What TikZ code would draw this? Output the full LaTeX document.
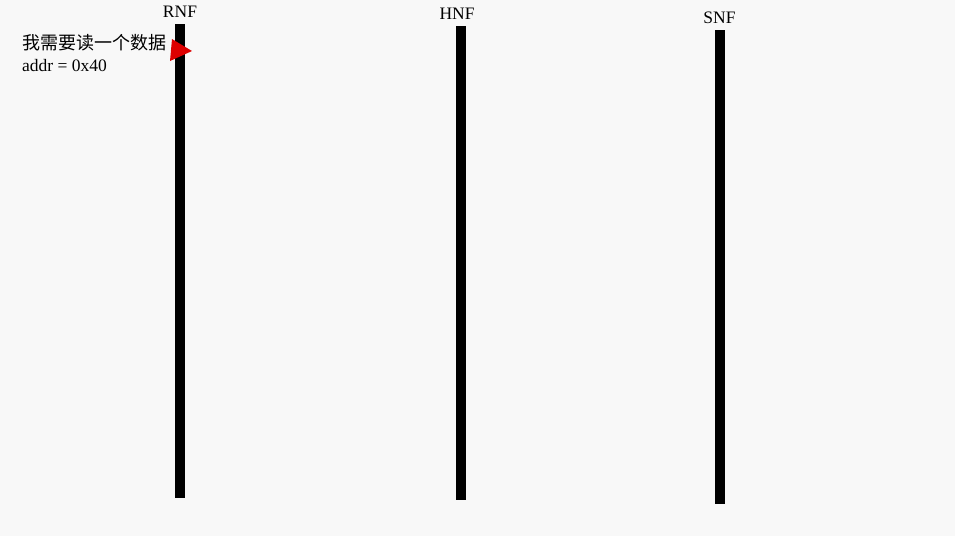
\documentclass[tikz,border=0pt]{standalone}
\usepackage{fontspec}
\setmainfont{Liberation Serif}
\newfontfamily\cjkfont{Noto Sans CJK SC}
\usetikzlibrary{positioning}
\definecolor{PageGrey}{HTML}{F8F8F8}
\definecolor{MsgRed}{HTML}{DD0000}

\begin{document}
\begin{tikzpicture}[
    x=1pt, y=-1pt,
    every node/.style={font=\fontsize{17.5}{20}\selectfont},
    lifeline/.style={fill=black,inner sep=0pt,minimum width=10pt,minimum height=474pt,anchor=north},
    agent/.style={inner sep=0pt,anchor=base},
    note/.style={inner sep=0pt,anchor=base west}
]
  \fill[PageGrey] (0,0) rectangle (955,536);
  \useasboundingbox (0,0) rectangle (955,536);

  % lifelines
  \node[lifeline] (rnf) at (180,24) {};
  \node[lifeline] (hnf) at (461,26) {};
  \node[lifeline] (snf) at (719.5,30) {};

  \node[agent, above=6pt of rnf.north] (rnflabel) {RNF};
  \node[agent, above=6pt of hnf.north, xshift=-4pt] (hnflabel) {HNF};
  \node[agent, above=6pt of snf.north] (snflabel) {SNF};

  % request
  \node[note, font=\cjkfont\fontsize{18}{20}\selectfont] (ask) at (22,49) {我需要读一个数据};
  \node[note] (addr) at (22,71) {addr = 0x40};
  \fill[MsgRed] (172,39) -- (192,51) -- (170,61) -- cycle;
\end{tikzpicture}
\end{document}
